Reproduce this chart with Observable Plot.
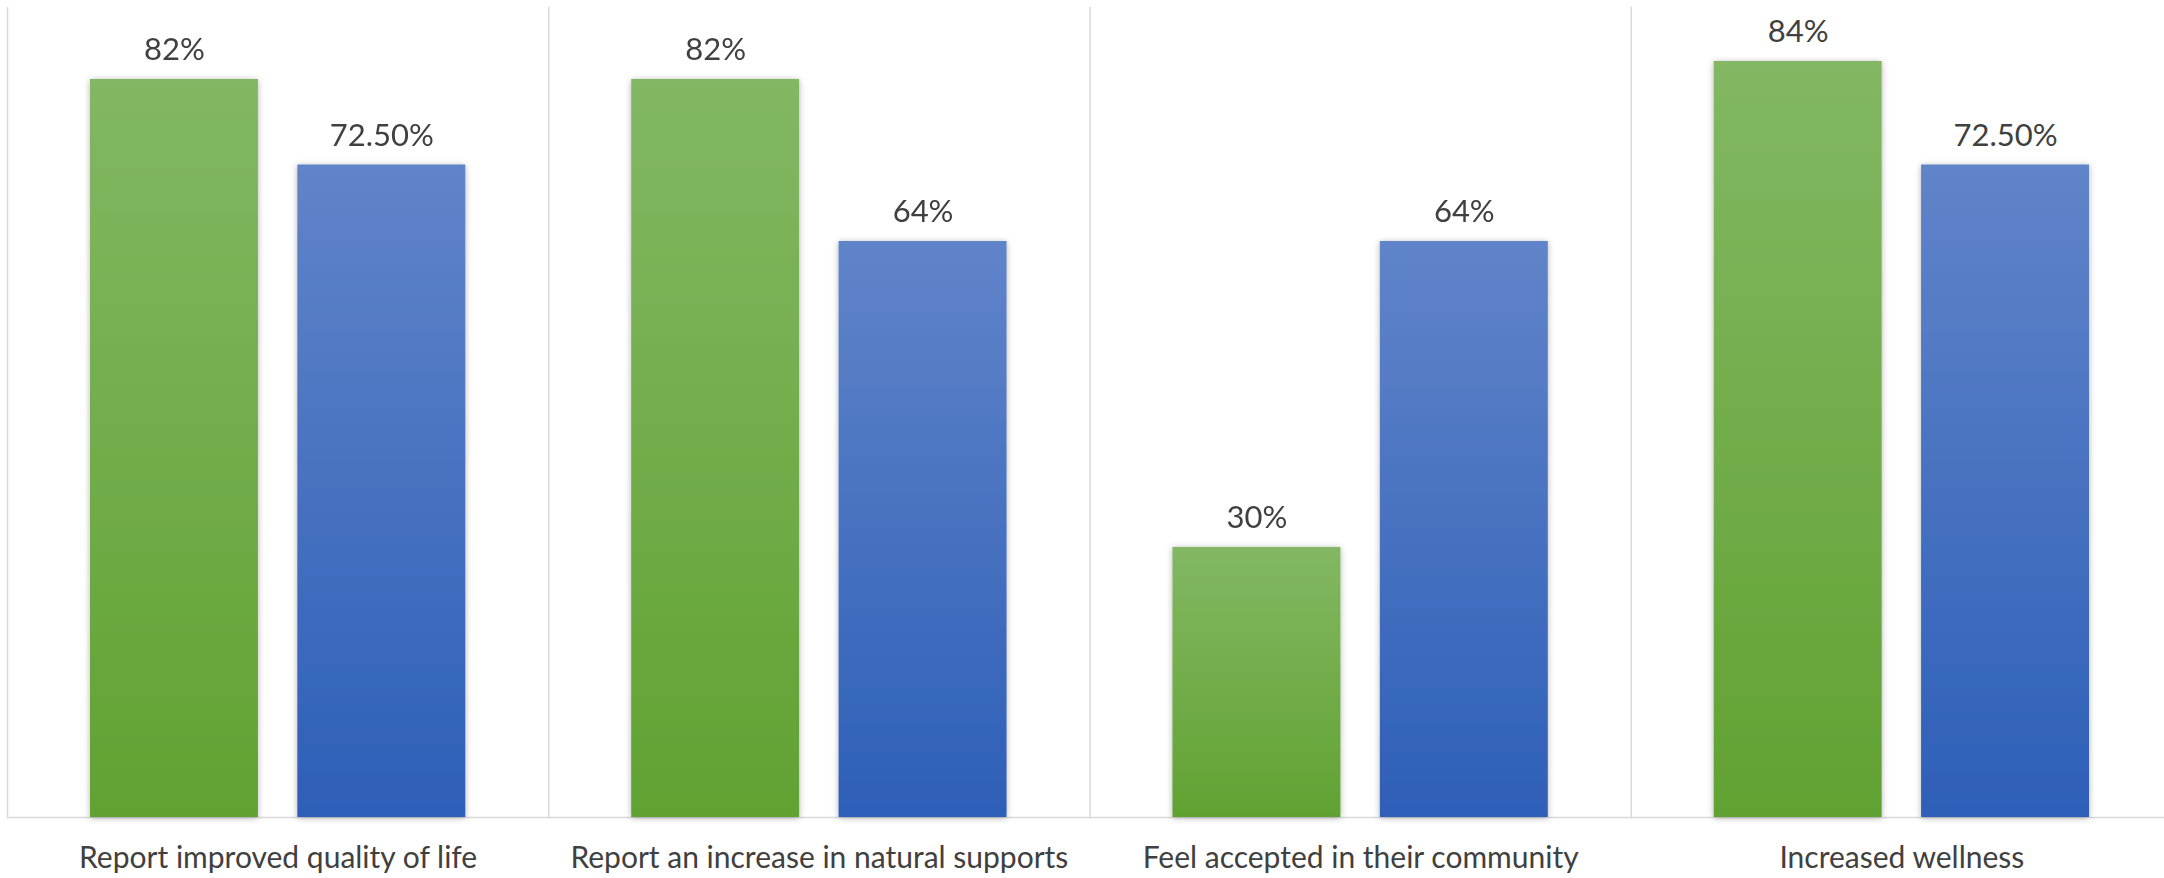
<!DOCTYPE html>
<html>
<head>
<meta charset="utf-8">
<script src="https://cdn.jsdelivr.net/npm/d3@7"></script>
<script src="https://cdn.jsdelivr.net/npm/@observablehq/plot@0.6"></script>
<style>
  html, body { margin: 0; padding: 0; background: #ffffff; overflow: hidden; width: 2164px; height: 878px; }
  #chart svg { display: block; }
</style>
</head>
<body>
<div id="chart"></div>
<script>
// ---- data ----
const categories = [
  "Report improved quality of life",
  "Report an increase in natural supports",
  "Feel accepted in their community",
  "Increased wellness"
];
const seriesKeys = ["Series 1", "Series 2"];
const series1Values = [82, 82, 30, 84];
const series2Values = [72.5, 64, 64, 72.5];
const series1Labels = ["82%", "82%", "30%", "84%"];
const series2Labels = ["72.50%", "64%", "64%", "72.50%"];

// ---- table built from the arrays ----
const rows = categories.flatMap((c, i) => [
  {category: c, series: seriesKeys[0], value: series1Values[i], label: series1Labels[i]},
  {category: c, series: seriesKeys[1], value: series2Values[i], label: series2Labels[i]}
]);

const textColor = "#404040";
const gridColor = "#d9d9d9";
const fontFamily = "Lato, 'Open Sans', sans-serif";

const chart = Plot.plot({
  width: 2164,
  height: 878,
  marginLeft: 7,
  marginRight: -8,
  marginTop: 7,
  marginBottom: 61,
  style: {fontFamily, background: "transparent", color: textColor},
  fx: {domain: categories, padding: 0, axis: null, round: false},
  x: {domain: seriesKeys, paddingInner: 0.19, paddingOuter: 0.4, axis: null, round: false},
  y: {domain: [0, 90], axis: null},
  marks: [
    Plot.frame({anchor: "left", stroke: gridColor, strokeWidth: 1.5}),
    Plot.ruleY([0], {stroke: gridColor, strokeWidth: 1.5}),
    Plot.barY(rows.filter(d => d.series === seriesKeys[0]), {
      fx: "category", x: "series", y: "value", fill: "url(#gradGreen)", ariaLabel: "bar"
    }),
    Plot.barY(rows.filter(d => d.series === seriesKeys[1]), {
      fx: "category", x: "series", y: "value", fill: "url(#gradBlue)", ariaLabel: "bar"
    }),
    Plot.text(rows, {
      fx: "category", x: "series", y: "value", text: "label",
      dy: -29, fill: textColor, fontSize: 31
    }),
    Plot.text(categories, {
      fx: d => d, text: d => d, frameAnchor: "bottom",
      dy: 50, fill: textColor, fontSize: 30
    })
  ]
});

// gradients + shadow
const svg = d3.select(chart.tagName.toLowerCase() === "svg" ? chart : chart.querySelector("svg"));
const defs = svg.insert("defs", ":first-child");
function grad(id, top, bottom) {
  const g = defs.append("linearGradient").attr("id", id)
    .attr("x1", 0).attr("y1", 0).attr("x2", 0).attr("y2", 1);
  g.append("stop").attr("offset", "0%").attr("stop-color", top);
  g.append("stop").attr("offset", "100%").attr("stop-color", bottom);
}
grad("gradGreen", "#83b763", "#61a232");
grad("gradBlue", "#6084c9", "#2e5fb8");
const f = defs.append("filter").attr("id", "shadow")
  .attr("x", "-20%").attr("y", "-5%").attr("width", "140%").attr("height", "110%");
f.append("feDropShadow").attr("dx", 0).attr("dy", 1).attr("stdDeviation", 3)
  .attr("flood-color", "#000").attr("flood-opacity", 0.3);
svg.selectAll('g[aria-label="bar"]').attr("filter", "url(#shadow)");

document.getElementById("chart").appendChild(chart);
</script>
</body>
</html>
